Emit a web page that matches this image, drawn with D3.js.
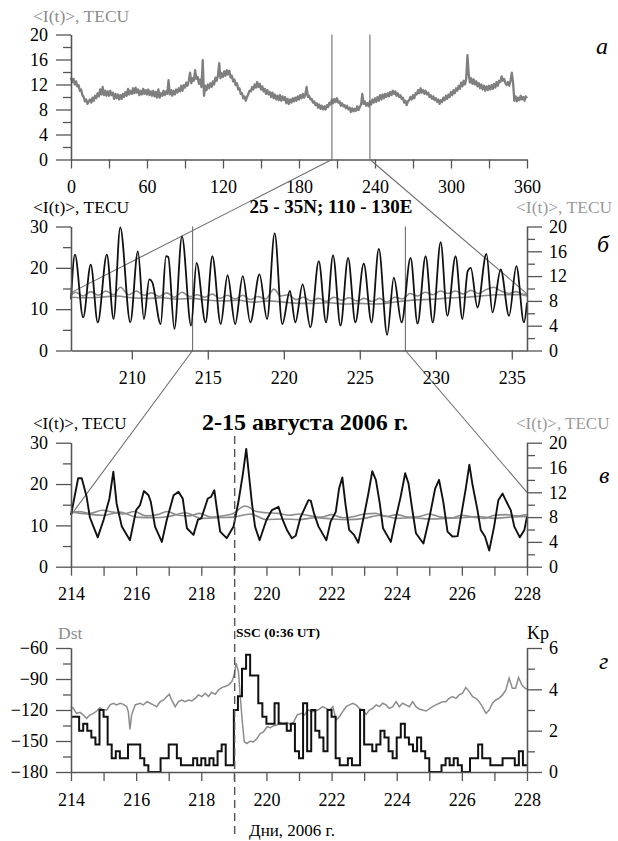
<!DOCTYPE html>
<html>
<head>
<meta charset="utf-8">
<script src="https://cdn.jsdelivr.net/npm/d3@7"></script>
<style>
body { margin: 0; background: #fff; }
text { font-family: "Liberation Serif", "Times New Roman", serif; }
</style>
</head>
<body>
<div id="vis"></div>
<script>

// panel а: <I(t)> over the year, one value per day (day 0..360), TECU
var yearTec = [
  13.1, 12.4, 12.9, 12.0, 12.5, 11.7, 11.9, 11.0, 11.2, 10.3,
  10.0, 9.3, 9.6, 8.9, 9.3, 9.6, 9.1, 9.9, 9.4, 10.2,
  9.8, 10.6, 10.1, 11.2, 10.4, 11.6, 10.3, 11.0, 10.2, 10.9,
  10.2, 11.0, 10.3, 10.7, 9.7, 10.5, 9.8, 10.4, 9.6, 10.3,
  9.7, 10.5, 10.0, 10.8, 10.2, 11.3, 10.4, 11.0, 10.5, 11.4,
  10.6, 11.5, 10.7, 11.2, 10.3, 11.0, 10.4, 11.3, 10.5, 11.1,
  10.4, 11.2, 10.3, 10.9, 10.2, 11.0, 10.1, 10.8, 9.9, 11.2,
  9.9, 10.6, 10.2, 11.0, 10.3, 10.9, 10.5, 12.7, 10.4, 11.1,
  10.2, 11.0, 10.4, 11.2, 10.7, 11.4, 10.9, 11.8, 11.0, 11.9,
  11.5, 12.3, 11.8, 12.6, 13.9, 12.2, 13.0, 12.6, 14.3, 12.9,
  13.2, 12.1, 12.8, 11.6, 15.9, 10.2, 11.8, 11.1, 12.0, 11.4,
  12.2, 11.6, 12.5, 12.0, 13.1, 12.6, 13.4, 15.4, 13.0, 13.8,
  13.2, 14.1, 13.4, 14.3, 13.6, 14.2, 13.1, 13.4, 12.5, 12.8,
  11.9, 12.2, 11.2, 11.4, 10.5, 10.6, 9.8, 10.1, 9.4, 10.0,
  10.5, 11.0, 10.9, 11.6, 11.2, 12.0, 11.5, 12.4, 11.6, 12.1,
  11.2, 11.7, 10.9, 11.3, 10.5, 11.1, 10.4, 10.8, 10.0, 10.7,
  9.8, 10.4, 9.6, 10.2, 9.5, 10.3, 9.4, 10.1, 9.5, 10.0,
  9.0, 9.7, 8.9, 9.6, 9.1, 9.8, 9.3, 9.9, 9.4, 10.1,
  9.6, 10.3, 9.8, 10.5, 9.9, 10.4, 11.6, 10.0, 10.2, 9.6,
  9.7, 9.1, 9.3, 8.7, 9.0, 8.3, 8.8, 8.1, 8.6, 8.0,
  8.5, 8.0, 8.7, 8.4, 9.1, 8.8, 9.6, 9.0, 9.7, 9.2,
  9.8, 9.1, 9.3, 8.6, 9.0, 8.5, 8.7, 8.2, 8.6, 8.0,
  8.3, 7.6, 8.2, 7.7, 8.1, 7.8, 8.5, 7.9, 8.4, 8.8,
  10.5, 8.9, 9.3, 8.6, 9.0, 8.5, 9.3, 8.8, 9.6, 9.1,
  9.8, 9.2, 10.0, 9.4, 10.3, 9.6, 10.4, 9.8, 10.5, 10.0,
  10.6, 10.1, 10.8, 10.3, 11.0, 10.5, 10.9, 10.2, 10.6, 10.0,
  10.3, 9.7, 9.9, 9.1, 9.4, 8.7, 9.3, 9.5, 10.0, 9.6,
  10.3, 9.8, 10.6, 10.4, 11.1, 10.6, 11.4, 10.7, 11.1, 10.5,
  11.0, 10.4, 10.7, 10.0, 10.3, 9.7, 10.1, 9.5, 9.8, 9.2,
  9.6, 8.9, 9.5, 9.2, 9.9, 9.5, 10.2, 9.7, 10.4, 10.0,
  10.8, 10.3, 11.1, 10.6, 11.4, 11.0, 11.8, 11.3, 12.3, 11.7,
  12.6, 12.0, 12.9, 16.7, 13.6, 12.3, 13.0, 12.1, 12.8, 12.0,
  12.5, 11.7, 12.2, 11.4, 12.0, 11.2, 11.8, 11.0, 11.7, 11.1,
  11.8, 11.2, 11.9, 11.3, 12.1, 11.5, 12.4, 11.8, 12.6, 12.4,
  13.3, 12.6, 12.9, 12.2, 11.9, 12.4, 11.8, 12.6, 13.9, 12.3,
  9.4, 10.1, 9.3, 9.9, 9.5, 10.2, 9.6, 10.0, 9.4, 10.1, 9.8
];

// panel б: days 206-236, [day, TECU]
var monthBlack = [
  [206.0, 12.4], [206.26, 23.2], [206.8, 8.0], [207.3, 20.8], [207.76, 6.8],
  [208.36, 23.2], [208.8, 7.6], [209.24, 29.8], [209.9, 6.8], [210.4, 24.0],
  [210.8, 7.6], [211.15, 17.2], [211.35, 16.5], [211.9, 6.4], [212.25, 22.8],
  [212.4, 22.6], [212.8, 5.2], [213.3, 27.6], [213.9, 6.0], [214.26, 21.2],
  [214.85, 6.8], [215.3, 22.8], [215.85, 6.4], [216.3, 18.2], [216.8, 6.4],
  [217.3, 18.0], [217.8, 6.8], [218.4, 18.4], [218.9, 7.6], [219.4, 28.4],
  [219.9, 6.4], [220.4, 14.4], [220.76, 6.8], [221.24, 16.0], [221.75, 5.6],
  [222.3, 21.6], [222.78, 6.8], [223.24, 23.0], [223.73, 6.0], [224.23, 22.4],
  [224.71, 6.8], [225.26, 21.0], [225.77, 6.8], [226.25, 24.6], [226.8, 3.8],
  [227.24, 17.6], [227.75, 6.8], [228.34, 22.4], [228.8, 6.5], [229.33, 22.8],
  [229.8, 6.8], [230.32, 26.2], [230.76, 8.4], [231.3, 22.8], [231.75, 7.6],
  [232.1, 19.2], [232.3, 20.0], [232.74, 10.4], [233.33, 23.4], [233.73, 9.2],
  [234.27, 19.6], [234.82, 8.4], [235.3, 20.4], [235.8, 6.8], [236.0, 11.6]
];
var monthGray1 = [
  [206.0, 8.9], [206.3, 9.4], [206.8, 8.8], [207.3, 9.5], [207.8, 8.9],
  [208.3, 9.6], [208.8, 9.0], [209.25, 10.2], [209.8, 9.0], [210.3, 9.6],
  [210.8, 8.9], [211.3, 9.3], [211.8, 8.7], [212.3, 9.3], [212.8, 8.6],
  [213.3, 9.4], [213.8, 8.7], [214.3, 9.0], [214.8, 8.6], [215.3, 9.1],
  [215.8, 8.4], [216.3, 8.9], [216.8, 8.3], [217.3, 8.9], [217.8, 8.2],
  [218.3, 8.7], [218.8, 8.3], [219.35, 9.9], [219.8, 8.8], [220.3, 9.0],
  [220.8, 8.2], [221.3, 8.6], [221.8, 8.0], [222.3, 8.4], [222.8, 7.9],
  [223.3, 8.6], [223.8, 8.1], [224.3, 8.5], [224.8, 8.0], [225.3, 8.4],
  [225.8, 7.9], [226.3, 8.4], [226.8, 7.8], [227.3, 8.6], [227.8, 8.3],
  [228.3, 9.2], [228.8, 8.8], [229.3, 9.4], [229.8, 9.0], [230.3, 9.6],
  [230.8, 9.2], [231.3, 9.6], [231.8, 9.1], [232.3, 9.7], [232.8, 9.2],
  [233.3, 9.8], [233.8, 10.2], [234.3, 9.6], [234.8, 9.2], [235.3, 9.5],
  [235.8, 8.9], [236.0, 8.8]
];
var monthGray2 = [
  [206, 8.6], [207, 8.5], [208, 8.6], [209, 8.8], [210, 8.5], [211, 8.4],
  [212, 8.5], [213, 8.3], [214, 8.4], [215, 8.1], [216, 8.0], [217, 8.1],
  [218, 7.8], [219, 8.0], [220, 7.8], [221, 7.6], [222, 7.6], [223, 7.7],
  [224, 7.5], [225, 7.6], [226, 7.5], [227, 7.7], [228, 8.0], [229, 8.2],
  [230, 8.3], [231, 8.5], [232, 8.6], [233, 8.8], [234, 9.0], [235, 9.0],
  [236, 9.1]
];

// panel в: 2-15 August (days 214-228), [day, TECU]
var augBlack = [
  [214.0, 12.5], [214.22, 21.4], [214.33, 21.4], [214.48, 16.9], [214.58, 11.9],
  [214.69, 9.7], [214.82, 7.1], [215.0, 11.3], [215.18, 16.5], [215.3, 23.0],
  [215.4, 15.3], [215.56, 9.7], [215.81, 6.4], [216.0, 13.7], [216.12, 14.9],
  [216.24, 18.3], [216.38, 17.3], [216.45, 15.7], [216.58, 9.7], [216.79, 6.0],
  [216.94, 11.3], [217.15, 17.3], [217.3, 18.1], [217.43, 16.5], [217.56, 9.3],
  [217.76, 7.7], [217.9, 11.4], [218.0, 11.7], [218.2, 16.5], [218.3, 16.9],
  [218.4, 18.5], [218.48, 13.9], [218.58, 8.5], [218.78, 6.9], [218.99, 9.7],
  [219.14, 15.7], [219.28, 22.6], [219.38, 28.5], [219.48, 21.0], [219.55, 15.7],
  [219.65, 9.7], [219.79, 6.4], [220.0, 11.3], [220.17, 13.7], [220.37, 14.5],
  [220.5, 11.3], [220.63, 8.9], [220.78, 6.9], [220.9, 7.5], [221.05, 12.0],
  [221.29, 16.1], [221.36, 16.0], [221.46, 12.9], [221.6, 9.7], [221.84, 6.4],
  [221.97, 10.9], [222.13, 13.3], [222.23, 18.9], [222.33, 21.6], [222.43, 14.9],
  [222.54, 8.9], [222.69, 7.7], [222.82, 5.8], [223.0, 12.5], [223.13, 17.7],
  [223.25, 23.1], [223.36, 21.0], [223.48, 15.3], [223.58, 9.3], [223.82, 6.0],
  [223.97, 11.7], [224.12, 16.9], [224.26, 22.6], [224.36, 20.2], [224.48, 13.7],
  [224.59, 8.1], [224.82, 5.6], [225.0, 11.7], [225.18, 18.9], [225.3, 21.0],
  [225.43, 15.7], [225.56, 8.5], [225.71, 7.3], [225.87, 7.4], [225.99, 12.9],
  [226.12, 18.9], [226.23, 24.7], [226.33, 19.7], [226.48, 13.7], [226.58, 8.9],
  [226.71, 7.3], [226.84, 3.9], [226.99, 9.7], [227.12, 16.1], [227.25, 17.7],
  [227.37, 15.7], [227.5, 13.7], [227.61, 9.7], [227.78, 7.1], [227.92, 8.9],
  [228.0, 12.1]
];
var augGray1 = [
  [214.0, 8.8], [214.25, 8.9], [214.6, 8.6], [214.95, 9.1], [215.3, 8.8],
  [215.6, 8.5], [215.95, 8.9], [216.3, 8.2], [216.65, 8.4], [216.95, 8.9],
  [217.3, 8.3], [217.65, 8.2], [217.95, 8.6], [218.3, 8.0], [218.65, 8.2],
  [218.95, 8.5], [219.35, 9.8], [219.7, 8.9], [220.0, 8.7], [220.35, 8.6],
  [220.7, 8.3], [221.0, 8.5], [221.35, 8.2], [221.7, 8.0], [222.0, 8.4],
  [222.35, 7.9], [222.7, 8.1], [223.0, 8.5], [223.35, 8.6], [223.7, 8.1],
  [224.0, 8.4], [224.35, 8.0], [224.7, 8.1], [225.0, 8.5], [225.35, 8.0],
  [225.7, 7.9], [226.0, 8.3], [226.35, 8.0], [226.7, 7.8], [227.0, 8.3],
  [227.35, 8.4], [227.7, 8.2], [228.0, 8.4]
];
var augGray2 = [
  [214.0, 8.8], [214.5, 8.5], [215.0, 8.3], [215.5, 8.8], [216.0, 8.0],
  [216.5, 7.9], [217.0, 8.1], [217.5, 8.7], [218.0, 7.8], [218.5, 7.9],
  [219.0, 8.0], [219.5, 8.5], [220.0, 7.6], [220.5, 7.7], [221.0, 7.6],
  [221.5, 7.9], [222.0, 7.7], [222.5, 7.6], [223.0, 7.8], [223.5, 8.3],
  [224.0, 7.8], [224.5, 7.9], [225.0, 7.7], [225.5, 7.8], [226.0, 7.9],
  [226.5, 8.1], [227.0, 7.8], [227.5, 8.0], [228.0, 8.1]
];

// panel г: Dst, nT, [day, value]
var dst = [
  [214.00, -116.8], [214.07, -118.4], [214.17, -123.2], [214.28, -122.3], [214.38, -124.9],
  [214.48, -128.1], [214.58, -124.9], [214.69, -123.2], [214.79, -121.0], [214.89, -117.7],
  [214.99, -120.0], [215.10, -120.0], [215.20, -115.1], [215.30, -113.5], [215.40, -115.1],
  [215.51, -113.5], [215.61, -114.5], [215.71, -116.8], [215.76, -121.6], [215.81, -138.8],
  [215.86, -124.9], [215.97, -115.1], [216.12, -113.5], [216.22, -115.1], [216.33, -111.9],
  [216.43, -113.5], [216.53, -115.1], [216.63, -116.8], [216.74, -111.9], [216.84, -110.3],
  [216.94, -107.0], [217.02, -104.8], [217.09, -110.3], [217.20, -116.8], [217.30, -111.9],
  [217.40, -110.3], [217.50, -111.9], [217.61, -110.3], [217.71, -111.2], [217.81, -108.7],
  [217.91, -105.4], [218.02, -107.0], [218.12, -103.8], [218.22, -107.0], [218.32, -102.8],
  [218.43, -104.8], [218.53, -100.5], [218.63, -98.3], [218.73, -97.3], [218.84, -95.7],
  [218.94, -92.4], [219.01, -86.0], [219.07, -74.6], [219.14, -82.7], [219.19, -103.8],
  [219.25, -128.1], [219.32, -150.8], [219.40, -152.4], [219.50, -150.2], [219.60, -150.8],
  [219.71, -147.6], [219.81, -142.7], [219.91, -141.1], [220.02, -136.2], [220.12, -137.2],
  [220.22, -135.2], [220.32, -134.6], [220.42, -132.0], [220.53, -133.0], [220.63, -132.0],
  [220.73, -134.0], [220.83, -132.0], [220.94, -124.9], [221.07, -123.2], [221.17, -124.9],
  [221.27, -120.0], [221.42, -121.6], [221.58, -120.0], [221.73, -116.8], [221.83, -118.4],
  [221.94, -120.0], [222.04, -116.8], [222.14, -129.7], [222.24, -126.5], [222.34, -121.6],
  [222.45, -116.8], [222.55, -115.1], [222.65, -113.5], [222.75, -115.1], [222.85, -118.4],
  [222.96, -120.0], [223.06, -124.2], [223.16, -120.0], [223.26, -118.4], [223.37, -115.1],
  [223.47, -116.8], [223.57, -113.5], [223.67, -115.1], [223.77, -118.4], [223.88, -116.8],
  [223.98, -111.9], [224.08, -116.8], [224.18, -113.5], [224.28, -115.1], [224.39, -116.8],
  [224.49, -111.9], [224.59, -116.8], [224.69, -119.0], [224.79, -120.0], [224.90, -121.0],
  [225.00, -119.0], [225.10, -116.8], [225.20, -115.1], [225.31, -113.5], [225.41, -111.9],
  [225.51, -111.9], [225.61, -108.7], [225.71, -107.0], [225.82, -108.7], [225.92, -105.4],
  [226.02, -103.8], [226.12, -98.3], [226.23, -102.2], [226.33, -107.0], [226.43, -108.7],
  [226.53, -111.9], [226.63, -116.8], [226.74, -123.2], [226.84, -120.0], [226.94, -113.5],
  [227.04, -110.3], [227.14, -108.7], [227.25, -105.4], [227.35, -100.5], [227.45, -89.2],
  [227.55, -98.9], [227.65, -98.9], [227.74, -88.5], [227.84, -95.7], [227.94, -98.9],
  [228.00, -100.0]
];

// panel г: Kp, 3-hour values from day 214.0
var kp = [
  2.67, 2.67, 2.0, 2.33, 2.0, 1.67, 1.33, 3.0,
  2.67, 1.33, 0.67, 1.0, 0.67, 0.67, 1.33, 1.33,
  1.33, 0.67, 0.33, 0, 0, 0, 0.67, 0.67,
  1.33, 1.33, 0.67, 0.33, 0.33, 0.33, 0.67, 0.33,
  0.67, 0.33, 0.67, 0.33, 1.0, 1.33, 0.33, 0.33,
  3.0, 3.67, 5.0, 5.67, 4.67, 4.67, 3.33, 2.67,
  2.33, 2.33, 3.33, 2.33, 2.33, 2.0, 2.33, 1.0,
  0.67, 3.33, 1.0, 3.0, 2.0, 1.67, 1.0, 3.0,
  2.67, 0.67, 0.33, 0.33, 0.67, 0.33, 0.33, 3.0,
  1.33, 1.33, 1.0, 1.33, 2.0, 1.67, 1.0, 0.67,
  1.67, 2.33, 1.67, 1.33, 1.0, 1.67, 1.0, 0.67,
  0, 0, 0, 0.33, 0.67, 0.33, 0.67, 0.33,
  0, 0, 0.67, 0.67, 1.33, 0.67, 0.67, 0.33,
  0.33, 0.33, 0.67, 0.67, 0.67, 0.33, 1.0, 0.33
];
var kpStart = 214, kpStep = 0.125;
var sscDay = 219.025; // 0:36 UT

// zoom windows
var zoomMonth = [206, 236];
var zoomAug = [214, 228];

// ticks
var aXTicks = [0, 30, 60, 90, 120, 150, 180, 210, 240, 270, 300, 330, 360];
var aXLabels = [0, 60, 120, 180, 240, 300, 360];
var aYMajor = [0, 4, 8, 12, 16, 20];
var aYMinor = [2, 6, 10, 14, 18];
var bXTicks = [210, 215, 220, 225, 230, 235];
var tecMajor = [0, 10, 20, 30];
var tecMinor = [5, 15, 25];
var rightMajor = [0, 4, 8, 12, 16, 20];
var rightMinor = [2, 6, 10, 14, 18];
var dayTicks = [214, 215, 216, 217, 218, 219, 220, 221, 222, 223, 224, 225, 226, 227, 228];
var dayLabels = [214, 216, 218, 220, 222, 224, 226, 228];
var dstMajor = [-180, -150, -120, -90, -60];
var dstMinor = [-165, -135, -105, -75];
var kpMajor = [0, 2, 4, 6];
var kpMinor = [1, 3, 5];

var W = 618, H = 841;
var plotLeft = 71, plotRight = 527;
var axisColor = "#555";
var tickFont = 18;

var svg = d3.select("#vis").append("svg")
    .attr("width", W).attr("height", H);

// scales
var xa = d3.scaleLinear().domain([0, 360]).range([plotLeft, plotRight]);
var ya = d3.scaleLinear().domain([0, 20]).range([159.5, 34.5]);

var xb = d3.scaleLinear().domain(zoomMonth).range([plotLeft, plotRight]);
var ybL = d3.scaleLinear().domain([0, 30]).range([350.5, 226.5]);
var ybR = d3.scaleLinear().domain([0, 20]).range([350.5, 226.5]);

var xc = d3.scaleLinear().domain(zoomAug).range([plotLeft, plotRight]);
var ycL = d3.scaleLinear().domain([0, 30]).range([566.7, 442.7]);
var ycR = d3.scaleLinear().domain([0, 20]).range([566.7, 442.7]);

var xd = d3.scaleLinear().domain(zoomAug).range([plotLeft, plotRight]);
var yDst = d3.scaleLinear().domain([-180, -60]).range([772, 648]);
var yKp = d3.scaleLinear().domain([0, 6]).range([772, 648]);

function styleAxis(g) {
    g.attr("font-family", null).attr("font-size", null);
    g.selectAll(".domain").attr("stroke", axisColor).attr("stroke-width", 1.3);
    g.selectAll(".tick line").attr("stroke", axisColor).attr("stroke-width", 1.3);
    g.selectAll(".tick text").attr("fill", "#000").style("font-size", tickFont + "px");
}

function yAxis(scale, side, major, minor) {
    var x = side == "left" ? plotLeft : plotRight;
    var mk = side == "left" ? d3.axisLeft : d3.axisRight;
    var g1 = svg.append("g").attr("transform", "translate(" + x + ",0)")
        .call(mk(scale).tickValues(minor).tickSize(8).tickFormat("").tickSizeOuter(0));
    styleAxis(g1);
    var g2 = svg.append("g").attr("transform", "translate(" + x + ",0)")
        .call(mk(scale).tickValues(major).tickSize(15).tickPadding(side == "left" ? 8 : 7)
            .tickFormat(d3.format("d")).tickSizeOuter(0));
    styleAxis(g2);
}

function xAxis(scale, y, ticks, labels) {
    var g = svg.append("g").attr("transform", "translate(0," + y + ")")
        .call(d3.axisBottom(scale).tickValues(ticks).tickSize(9).tickPadding(12)
            .tickSizeOuter(0)
            .tickFormat(function(d) { return labels.indexOf(d) >= 0 ? d : ""; }));
    styleAxis(g);
}

function addText(x, y, str, opts) {
    opts = opts || {};
    return svg.append("text").attr("x", x).attr("y", y).text(str)
        .attr("fill", opts.fill || "#000")
        .attr("text-anchor", opts.anchor || "start")
        .attr("font-weight", opts.bold ? "bold" : null)
        .attr("font-style", opts.italic ? "italic" : null)
        .style("font-size", (opts.size || 17.5) + "px");
}

function pairLine(xs, ys, curve) {
    return d3.line()
        .x(function(d) { return xs(d[0]); })
        .y(function(d) { return ys(d[1]); })
        .curve(curve || d3.curveLinear);
}

// ---------------- panel а ----------------
svg.append("path")
    .datum(yearTec)
    .attr("fill", "none")
    .attr("stroke", "#7f7f7f")
    .attr("stroke-width", 2.3)
    .attr("stroke-linejoin", "round")
    .attr("d", d3.line().x(function(d, i) { return xa(i); }).y(function(d) { return ya(d); }));

yAxis(ya, "left", aYMajor, aYMinor);
xAxis(xa, 159.5, aXTicks, aXLabels);
addText(33, 22, "<I(t)>, TECU", {fill: "#8c8c8c"});
addText(596, 54, "а", {italic: true, size: 24});

// zoom connectors а -> б
var conn = svg.append("g").attr("stroke", "#6e6e6e").attr("stroke-width", 1.1).attr("fill", "none");
zoomMonth.forEach(function(d) {
    conn.append("line").attr("x1", xa(d)).attr("x2", xa(d)).attr("y1", ya(20)).attr("y2", ya(0));
});
conn.append("line").attr("x1", xa(zoomMonth[0])).attr("y1", ya(0)).attr("x2", plotLeft).attr("y2", ybL(14));
conn.append("line").attr("x1", xa(zoomMonth[1])).attr("y1", ya(0)).attr("x2", plotRight).attr("y2", ybL(13.7));

// ---------------- panel б ----------------
[monthGray2, monthGray1].forEach(function(s) {
    svg.append("path").datum(s)
        .attr("fill", "none").attr("stroke", "#8c8c8c").attr("stroke-width", 1.6)
        .attr("d", pairLine(xb, ybR, d3.curveMonotoneX));
});
svg.append("path").datum(monthBlack)
    .attr("fill", "none").attr("stroke", "#111").attr("stroke-width", 1.8)
    .attr("stroke-linejoin", "round")
    .attr("d", pairLine(xb, ybL, d3.curveMonotoneX));

yAxis(ybL, "left", tecMajor, tecMinor);
yAxis(ybR, "right", rightMajor, rightMinor);
xAxis(xb, 350.5, bXTicks, bXTicks);
addText(33, 213, "<I(t)>, TECU");
addText(516, 213, "<I(t)>, TECU", {fill: "#9a9a9a"});
addText(331, 213, "25 - 35N; 110 - 130E", {bold: true, anchor: "middle", size: 19});
addText(597, 252, "б", {italic: true, size: 24});

// zoom connectors б -> в
zoomAug.forEach(function(d) {
    conn.append("line").attr("x1", xb(d)).attr("x2", xb(d)).attr("y1", ybL(30)).attr("y2", ybL(0));
});
conn.append("line").attr("x1", xb(zoomAug[0])).attr("y1", ybL(0)).attr("x2", plotLeft).attr("y2", ycL(12.5));
conn.append("line").attr("x1", xb(zoomAug[1])).attr("y1", ybL(0)).attr("x2", plotRight).attr("y2", ycR(12));

// ---------------- panel в ----------------
[augGray2, augGray1].forEach(function(s) {
    svg.append("path").datum(s)
        .attr("fill", "none").attr("stroke", "#8c8c8c").attr("stroke-width", 1.6)
        .attr("d", pairLine(xc, ycR, d3.curveMonotoneX));
});
svg.append("path").datum(augBlack)
    .attr("fill", "none").attr("stroke", "#111").attr("stroke-width", 1.9)
    .attr("stroke-linejoin", "round")
    .attr("d", pairLine(xc, ycL));

yAxis(ycL, "left", tecMajor, tecMinor);
yAxis(ycR, "right", rightMajor, rightMinor);
xAxis(xc, 566.7, dayTicks, dayLabels);
addText(33, 429, "<I(t)>, TECU", {size: 17});
addText(516, 429, "<I(t)>, TECU", {fill: "#9a9a9a", size: 17});
addText(305, 430, "2-15 августа 2006 г.", {bold: true, anchor: "middle", size: 24});
addText(599, 483, "в", {italic: true, size: 24});

// ---------------- panel г ----------------
svg.append("path").datum(dst)
    .attr("fill", "none").attr("stroke", "#8c8c8c").attr("stroke-width", 1.5)
    .attr("d", pairLine(xd, yDst));

var kpPts = kp.map(function(v, i) { return [kpStart + i * kpStep, v]; });
kpPts.push([kpStart + kp.length * kpStep, kp[kp.length - 1]]);
svg.append("path").datum(kpPts)
    .attr("fill", "none").attr("stroke", "#111").attr("stroke-width", 2)
    .attr("d", pairLine(xd, yKp, d3.curveStepAfter));

yAxis(yDst, "left", dstMajor, dstMinor);
yAxis(yKp, "right", kpMajor, kpMinor);
xAxis(xd, 772, dayTicks, dayLabels);
addText(58, 639, "Dst", {fill: "#8c8c8c"});
addText(527, 639, "Kp", {size: 18});
addText(236, 637, "SSC (0:36 UT)", {bold: true, size: 13.5});
addText(292, 836, "Дни, 2006 г.", {anchor: "middle", size: 17});
addText(599, 669, "г", {italic: true, size: 24});

// SSC dashed marker through в and г
svg.append("line")
    .attr("x1", xd(sscDay)).attr("x2", xd(sscDay))
    .attr("y1", 436).attr("y2", 838)
    .attr("stroke", "#555").attr("stroke-width", 1.4)
    .attr("stroke-dasharray", "8,5");

</script>
</body>
</html>
